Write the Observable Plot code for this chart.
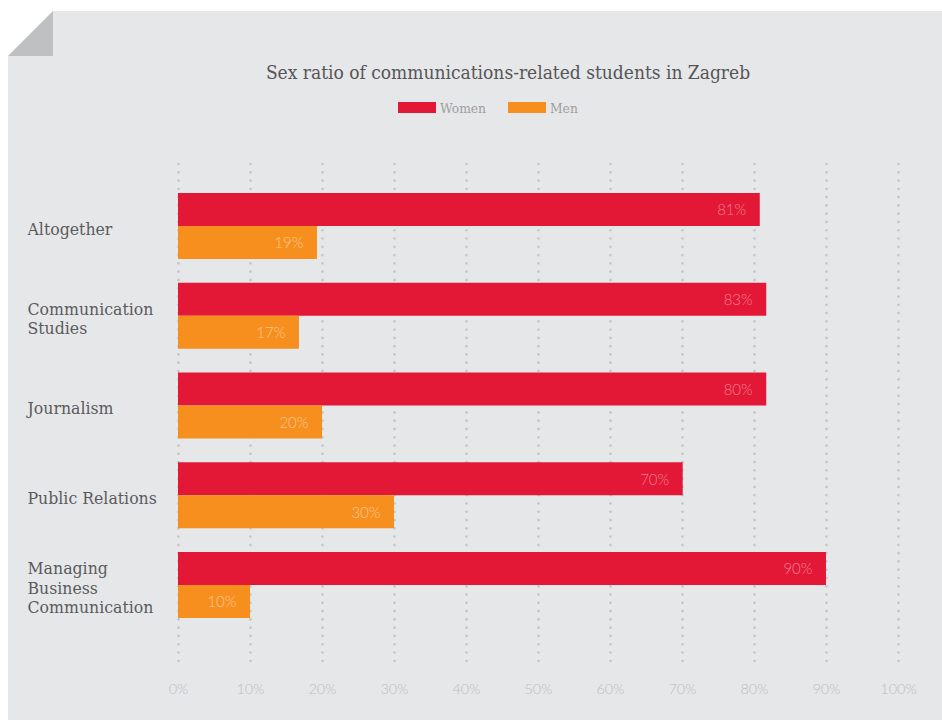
<!DOCTYPE html>
<html>
<head>
<meta charset="utf-8">
<script src="https://cdn.jsdelivr.net/npm/d3@7"></script>
<script src="https://cdn.jsdelivr.net/npm/@observablehq/plot@0.6"></script>
<style>
  html, body { margin: 0; padding: 0; background: #ffffff; }
  #page { position: relative; width: 942px; height: 720px; overflow: hidden; }
  #panel { position: absolute; left: 8px; top: 11px; right: 0; bottom: 0; background: #e6e7e9;
           clip-path: polygon(45px 0, 100% 0, 100% 100%, 0 100%, 0 45px); }
  #fold { position: absolute; left: 8px; top: 11px; width: 45px; height: 45px; background: #bfc0c2;
          clip-path: polygon(100% 0, 100% 100%, 0 100%); }
  .serif { font-family: "DejaVu Serif Condensed", "DejaVu Serif", serif; font-stretch: condensed; }
  #title { position: absolute; left: 0; width: 1016px; top: 63px; text-align: center; font-size: 19px; line-height: 19px; color: #555557; white-space: nowrap; }
  .sw { position: absolute; top: 102px; width: 38px; height: 11px; }
  .lg { position: absolute; top: 101.5px; font-size: 13.7px; line-height: 13.7px; color: #9d9d9f; white-space: nowrap; }
  #chart { position: absolute; left: 0; top: 140px; }
</style>
</head>
<body>
<div id="page">
  <div id="panel"></div>
  <div id="fold"></div>
  <div id="title" class="serif"></div>
  <div id="legend"></div>
  <div id="chart"></div>
</div>
<script>
// ---- data ----
const title = "Sex ratio of communications-related students in Zagreb";
const seriesNames = ["Women", "Men"];
const seriesColors = ["#e31837", "#f68f1e"];
const categories = ["Altogether", "Communication\nStudies", "Journalism", "Public Relations", "Managing\nBusiness\nCommunication"];
const womenValues = [80.8, 81.7, 81.7, 70.1, 90.0];
const menValues = [19.3, 16.8, 20.0, 30.0, 10.0];
const womenLabels = ["81%", "83%", "80%", "70%", "90%"];
const menLabels = ["19%", "17%", "20%", "30%", "10%"];
const xTicks = [0, 10, 20, 30, 40, 50, 60, 70, 80, 90, 100];

// ---- header ----
document.getElementById("title").textContent = title;
const legend = document.getElementById("legend");
const swatchX = [398, 508];
seriesNames.forEach((name, i) => {
  const sw = document.createElement("div");
  sw.className = "sw";
  sw.style.left = swatchX[i] + "px";
  sw.style.background = seriesColors[i];
  legend.appendChild(sw);
  const t = document.createElement("div");
  t.className = "lg serif";
  t.style.left = (swatchX[i] + 42) + "px";
  t.textContent = name;
  legend.appendChild(t);
});

// ---- chart ----
const women = categories.map((c, i) => ({category: c, value: womenValues[i], label: womenLabels[i]}));
const men = categories.map((c, i) => ({category: c, value: menValues[i], label: menLabels[i]}));

const numFont = "Lato, 'Open Sans', sans-serif";
const serifFont = "'DejaVu Serif Condensed', 'DejaVu Serif', serif";

const chart = Plot.plot({
  width: 942,
  height: 580,
  marginTop: 24,
  marginBottom: 59,
  marginLeft: 178,
  marginRight: 44,
  style: {background: "transparent", fontFamily: numFont, fontSize: "14.5px", fontWeight: 300, color: "#bcbdbf", overflow: "visible"},
  x: {domain: [0, 100], ticks: xTicks, tickFormat: d => d + "%", tickSize: 0, tickPadding: 22, label: null},
  y: {domain: categories, range: [41.125, 489.875], padding: 0, round: false, axis: null},
  marks: [
    Plot.ruleX(xTicks, {stroke: "#c4c5c7", strokeWidth: 2.7, strokeDasharray: "0 8.28", strokeLinecap: "round"}),
    Plot.barX(women, {x1: 0, x2: "value", y: "category", fill: seriesColors[0], insetTop: 11.875, insetBottom: 44.875}),
    Plot.barX(men, {x1: 0, x2: "value", y: "category", fill: seriesColors[1], insetTop: 44.875, insetBottom: 11.875}),
    Plot.text(women, {x: "value", y: "category", text: "label", dx: -14, dy: -16, textAnchor: "end",
      fill: "white", fillOpacity: 0.45, fontFamily: numFont, fontWeight: 300, fontSize: 15}),
    Plot.text(men, {x: "value", y: "category", text: "label", dx: -14, dy: 17, textAnchor: "end",
      fill: "white", fillOpacity: 0.5, fontFamily: numFont, fontWeight: 300, fontSize: 15}),
    Plot.text(categories, {y: d => d, text: d => d, frameAnchor: "left", textAnchor: "start", dx: -151, dy: 2,
      fill: "#5b5b5d", fontFamily: serifFont, fontSize: 17.5, fontWeight: 400, lineHeight: 1.1, stroke: "none"})
  ]
});
document.getElementById("chart").appendChild(chart);
</script>
</body>
</html>
